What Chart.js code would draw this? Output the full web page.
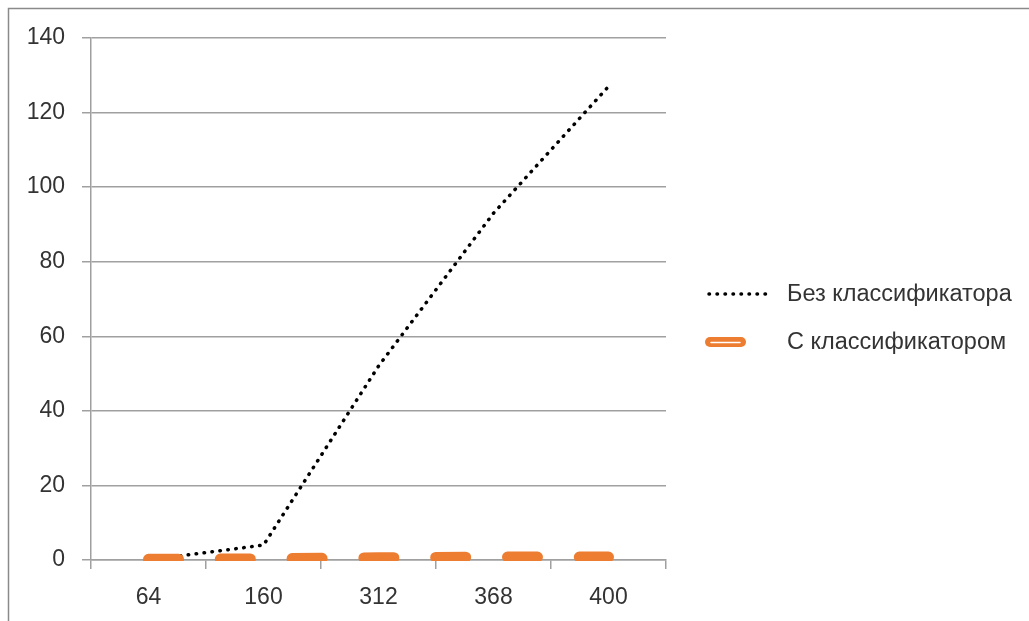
<!DOCTYPE html>
<html>
<head>
<meta charset="utf-8">
<script src="https://cdn.jsdelivr.net/npm/chart.js@4.4.1/dist/chart.umd.min.js"></script>
<style>
  html, body { margin: 0; padding: 0; background: #fff; }
  #wrap { position: relative; width: 1029px; height: 621px; }
</style>
</head>
<body>
<div id="wrap"><canvas id="chart" width="1029" height="621"></canvas></div>
<script>
// Problem sizes along the category axis
const categories = ['64', '160', '312', '368', '400'];
// Time without the classifier
const withoutClassifier = [0, 4, 52, 93, 127];
// Time with the classifier
const withClassifier = [0.2, 0.3, 0.6, 0.8, 0.8];
// Value axis range
const yMin = 0, yMax = 140, yStep = 20;

const seriesNames = ['Без классификатора', 'С классификатором'];
const ORANGE = '#ED7D31';
const GRID = '#a0a0a0';
const TEXT = '#333333';
const FONT = '"Liberation Sans", Arial, sans-serif';

// Outer frame of the chart object (top and left edges)
const framePlugin = {
  id: 'frame',
  beforeDraw(chart) {
    const ctx = chart.ctx;
    ctx.save();
    ctx.strokeStyle = '#8a8a8a';
    ctx.lineWidth = 1.5;
    ctx.beginPath();
    ctx.moveTo(8.5, chart.height);
    ctx.lineTo(8.5, 8.5);
    ctx.lineTo(chart.width, 8.5);
    ctx.stroke();
    ctx.restore();
  }
};

// Legend on the right, with line samples in each series' style
const legendPlugin = {
  id: 'sideLegend',
  afterDraw(chart) {
    const ctx = chart.ctx;
    const textX = 787;
    ctx.save();
    ctx.font = '23.5px ' + FONT;
    ctx.fillStyle = TEXT;
    ctx.textBaseline = 'middle';
    ctx.textAlign = 'left';

    // dotted sample
    ctx.strokeStyle = '#000';
    ctx.lineWidth = 3.5;
    ctx.lineCap = 'round';
    ctx.setLineDash([0.5, 7.5]);
    ctx.beginPath();
    ctx.moveTo(709, 294);
    ctx.lineTo(773, 294);
    ctx.stroke();
    ctx.fillText(seriesNames[0], textX, 295);

    // orange sample with a light core
    ctx.setLineDash([]);
    ctx.strokeStyle = ORANGE;
    ctx.lineWidth = 10;
    ctx.beginPath();
    ctx.moveTo(710, 342);
    ctx.lineTo(741, 342);
    ctx.stroke();
    ctx.strokeStyle = '#fff';
    ctx.lineWidth = 1.5;
    ctx.beginPath();
    ctx.moveTo(711, 342.5);
    ctx.lineTo(740, 342.5);
    ctx.stroke();
    ctx.fillStyle = TEXT;
    ctx.fillText(seriesNames[1], textX, 343);
    ctx.restore();
  }
};

new Chart(document.getElementById('chart'), {
  type: 'line',
  data: {
    labels: categories,
    datasets: [
      {
        label: seriesNames[0],
        data: withoutClassifier,
        borderColor: '#000',
        borderWidth: 3.5,
        borderCapStyle: 'round',
        borderDash: [0.5, 7.5],
        pointRadius: 0,
        tension: 0,
        fill: false,
        order: 2
      },
      {
        label: seriesNames[1],
        data: withClassifier,
        borderColor: ORANGE,
        borderWidth: 11,
        borderCapStyle: 'round',
        borderDash: [30, 41.8],
        pointRadius: 0,
        tension: 0,
        fill: false,
        clip: { left: false, top: false, right: false, bottom: 1 },
        order: 1
      }
    ]
  },
  options: {
    responsive: false,
    animation: false,
    events: [],
    layout: { padding: { left: 0, top: 38, right: 363, bottom: 0 } },
    plugins: {
      legend: { display: false },
      tooltip: { enabled: false }
    },
    scales: {
      x: {
        type: 'category',
        offset: true,
        grid: {
          offset: true,
          drawOnChartArea: false,
          tickLength: 9,
          color: GRID,
          lineWidth: 1.5
        },
        border: { color: GRID, width: 1.5 },
        ticks: {
          padding: 15,
          color: TEXT,
          font: { family: FONT, size: 23 },
          maxRotation: 0
        },
        afterFit(scale) { scale.height = 61; }
      },
      y: {
        min: yMin,
        max: yMax,
        ticks: {
          stepSize: yStep,
          padding: 17,
          color: TEXT,
          font: { family: FONT, size: 23 }
        },
        grid: {
          color: GRID,
          lineWidth: 1.5,
          tickLength: 9
        },
        border: { color: GRID, width: 1.5 },
        afterFit(scale) { scale.width = 91; }
      }
    }
  },
  plugins: [framePlugin, legendPlugin]
});
</script>
</body>
</html>
